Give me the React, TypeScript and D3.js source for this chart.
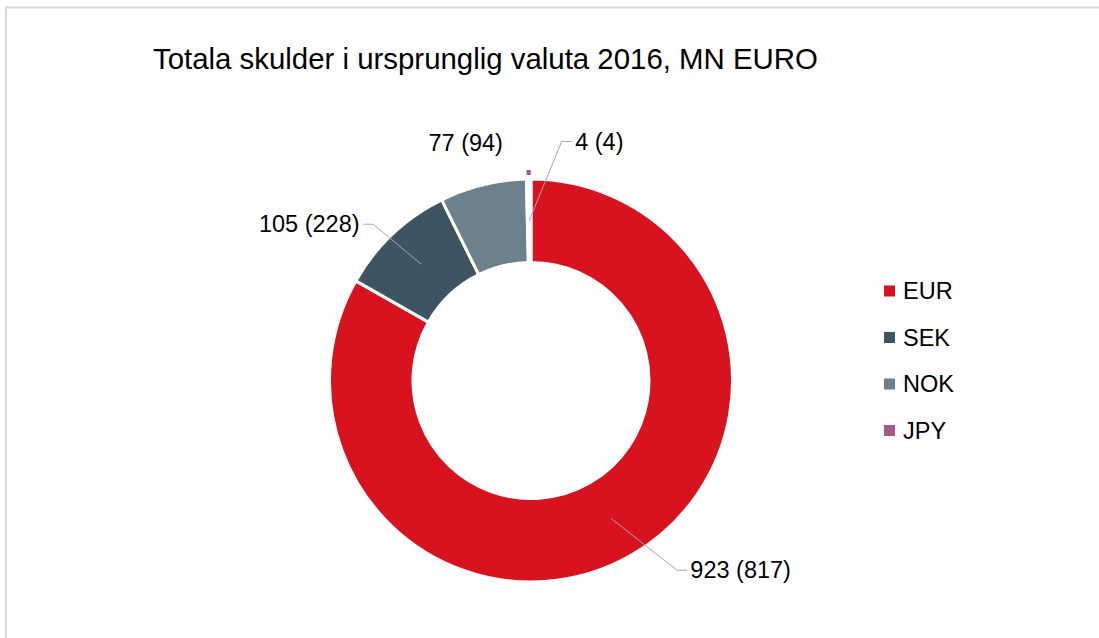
import React from 'react';
import * as d3 from 'd3';

const categories = ['EUR', 'SEK', 'NOK', 'JPY'];
const values2016 = [923, 105, 77, 4];
const valuesPrev = [817, 228, 94, 4];
const colors = ['#D6131F', '#3E5561', '#6D818D', '#A35A87'];
const title = 'Totala skulder i ursprunglig valuta 2016, MN EURO';

// layout only: label offsets from slice centroid
const labelLayout = [
  { dx: 65.5, dy: 51.6, anchor: 'start', leader: true },
  { dx: -48.3, dy: -40.1, anchor: 'end', leader: true },
  { dx: -27.2, dy: -82.1, anchor: 'middle', leader: false },
  { dx: 32.5, dy: -79.3, anchor: 'start', leader: true },
];

const W = 1099;
const H = 638;
const FONT = '"Liberation Sans", Arial, sans-serif';

export default function App() {
  const cx = 531;
  const cy = 380.5;
  const R = 201.5;
  const r = 118;

  const data = categories.map((c, i) => ({ c, v: values2016[i], p: valuesPrev[i], color: colors[i], i }));
  const pie = d3.pie<any>().sort(null).value((d: any) => d.v);
  const arcs = pie(data);
  const arc = d3.arc<any>().innerRadius(r).outerRadius(R);
  const tipArc = d3.arc<any>().innerRadius(R + 4).outerRadius(R + 9);

  const legendX = 884;
  const legendY0 = 291;
  const legendStep = 46.5;

  return (
    <svg width={W} height={H} style={{ position: 'absolute', left: 0, top: 0, background: '#fff' }} fontFamily={FONT}>
      <rect x={6} y={7.5} width={W + 10} height={H + 10} fill="#fff" stroke="#D9D9D9" strokeWidth={2} />
      <text x={153} y={68.5} fontSize={29.4} fill="#000">{title}</text>
      <g transform={`translate(${cx},${cy})`}>
        {arcs.map((a: any, i: number) => {
          if (a.data.c === 'JPY') {
            const mid = (a.startAngle + a.endAngle) / 2;
            return (
              <g key={i}>
                <path d={arc(a) as string} fill="#fff" stroke="#fff" strokeWidth={3} />
                <path d={tipArc({ startAngle: mid - 0.01, endAngle: mid + 0.01 }) as string} fill={a.data.color} />
              </g>
            );
          }
          return <path key={i} d={arc(a) as string} fill={a.data.color} stroke="#fff" strokeWidth={3} />;
        })}
        {arcs.map((a: any, i: number) => {
          const [x0, y0] = arc.centroid(a);
          const L = labelLayout[i];
          const ex = x0 + L.dx;
          const ey = y0 + L.dy;
          const dir = L.anchor === 'end' ? -1 : 1;
          const label = `${a.data.v} (${a.data.p})`;
          if (!L.leader) {
            return (
              <text key={i} x={ex} y={ey} dy="0.35em" fontSize={23.5} textAnchor="middle" fill="#000">{label}</text>
            );
          }
          const lx = ex + dir * 10;
          return (
            <g key={i}>
              <polyline points={`${x0},${y0} ${ex},${ey} ${lx},${ey}`} fill="none" stroke="#A6A6A6" strokeWidth={1} />
              <text x={lx + dir * 3.5} y={ey} dy="0.35em" fontSize={23.5} textAnchor={L.anchor} fill="#000">{label}</text>
            </g>
          );
        })}
      </g>
      <g>
        {categories.map((c, i) => (
          <g key={c} transform={`translate(${legendX},${legendY0 + i * legendStep})`}>
            <rect x={0} y={-5.5} width={11} height={11} fill={colors[i]} />
            <text x={19} y={0} dy="0.35em" fontSize={23.5} fill="#000">{c}</text>
          </g>
        ))}
      </g>
    </svg>
  );
}
